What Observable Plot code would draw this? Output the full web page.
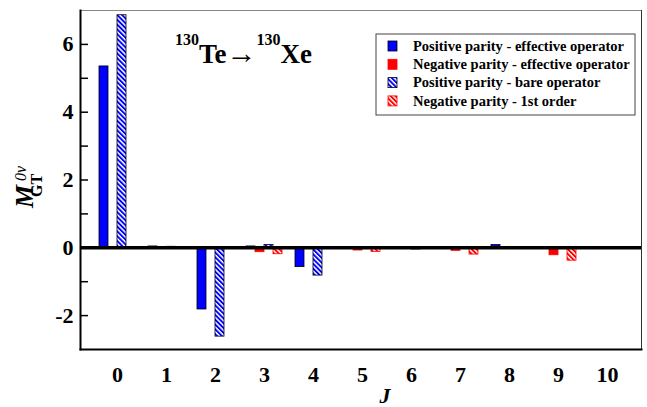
<!DOCTYPE html>
<html><head><meta charset="utf-8">
<script src="https://cdn.jsdelivr.net/npm/d3@7"></script>
<script src="https://cdn.jsdelivr.net/npm/@observablehq/plot@0.6"></script>
<style>body{margin:0;background:#fff}</style>
</head><body><div id="chart"></div>
<script>
const J = [0, 1, 2, 3, 4, 5, 6, 7, 8, 9, 10];
const posEffective = [5.35, 0.04, -1.82, 0.04, -0.57, 0, -0.03, 0, 0.08, 0, 0];
const negEffective = [0, 0, 0, -0.13, 0.02, -0.08, 0, -0.09, 0, -0.22, 0];
const posBare      = [6.86, 0.03, -2.62, 0.08, -0.82, 0, -0.05, 0, 0.02, 0, 0];
const negFirst     = [0, 0, 0, -0.19, 0.02, -0.12, 0, -0.20, 0, -0.38, 0];
const seriesNames = [
  "Positive parity - effective operator",
  "Negative parity - effective operator",
  "Positive parity - bare operator",
  "Negative parity - 1st order"
];
const yTicks = [-2, 0, 2, 4, 6];
const yMinorTicks = [-1, 1, 3, 5];

const seriesValues = [posEffective, negEffective, posBare, negFirst];
const fills = ["#0000ff", "#ff0000", "url(#hatchBlue)", "url(#hatchRed)"];
const strokes = ["#000", "#ff0000", "#000", "#ff0000"];
const pxPerJ = 49;
const barW = 9 / pxPerJ;
const slotOff = [-13.5, -4.5, 4.5, 13.5].map(p => p / pxPerJ);

const rows = J.flatMap((j, i) => seriesValues.map((vals, s) => ({J: j, s, value: vals[i]})));

const font = "Liberation Serif, Times New Roman, serif";

const barMarks = seriesValues.map((_, s) =>
  Plot.rectY(rows.filter(d => d.s === s), {
    x1: d => d.J + slotOff[s] - barW / 2,
    x2: d => d.J + slotOff[s] + barW / 2,
    y1: d => 0,
    y2: "value",
    fill: fills[s],
    stroke: strokes[s],
    strokeWidth: 0.8
  })
);

const svg = Plot.plot({
  width: 647, height: 407,
  marginLeft: 80, marginRight: 6, marginTop: 10, marginBottom: 58,
  x: {domain: [-0.755, 10.694]},
  y: {domain: [-3, 7]},
  style: {fontFamily: font, background: "white", color: "black"},
  marks: [
    ...barMarks,
    Plot.ruleY([0], {strokeWidth: 3.5}),
    Plot.frame({stroke: "#888"}),
    Plot.frame({anchor: "right", stroke: "#333"}),
    Plot.frame({anchor: "left", strokeWidth: 2}),
    Plot.frame({anchor: "bottom", strokeWidth: 2}),
    Plot.axisY(yTicks, {tickSize: -8, tickPadding: 15, fontSize: 22, fontWeight: "bold", fontFamily: font, fontVariant: "normal", tickFormat: d => String(d), label: null, strokeWidth: 1.5}),
    Plot.axisY(yMinorTicks, {tickSize: -8, tickFormat: () => "", label: null, strokeWidth: 1.5}),
    Plot.axisX(J, {tickSize: 0, tickPadding: 17, fontSize: 22, fontWeight: "bold", fontFamily: font, fontVariant: "normal", label: null})
  ]
});

const s = d3.select(svg);
const defs = s.insert("defs", ":first-child");
function hatch(id, color) {
  const p = defs.append("pattern").attr("id", id).attr("patternUnits", "userSpaceOnUse")
    .attr("width", 3.4).attr("height", 3.4).attr("patternTransform", "rotate(-45)");
  p.append("rect").attr("width", 3.4).attr("height", 3.4).attr("fill", "white");
  p.append("rect").attr("width", 1.9).attr("height", 3.4).attr("fill", color);
}
hatch("hatchBlue", "#0000ff");
hatch("hatchRed", "#ff0000");

function txt(sel) {
  return sel.append("text").attr("text-anchor", "start").attr("font-family", font).attr("fill", "black");
}

// title
const t = txt(s).attr("x", 175).attr("y", 63).attr("font-weight", "bold").attr("font-size", 27);
t.append("tspan").attr("font-size", 16).attr("dy", -18).text("130");
t.append("tspan").attr("dy", 18).text("Te");
t.append("tspan").attr("font-weight", "normal").attr("font-size", 30).attr("dx", 0).attr("dy", 0).text("\u2192");
t.append("tspan").attr("font-size", 16).attr("dx", 0).attr("dy", -18).text("130");
t.append("tspan").attr("dy", 18).text("Xe");

// y label
txt(s).attr("transform", "translate(33,208) rotate(-90)")
  .attr("font-style", "italic").attr("font-weight", "bold").attr("font-size", 26).text("M");
txt(s).attr("transform", "translate(26,181) rotate(-90)")
  .attr("font-style", "italic").attr("font-size", 16).text("0\u03bd");
txt(s).attr("transform", "translate(42,197) rotate(-90)")
  .attr("font-weight", "bold").attr("font-size", 16).text("GT");

// x label
txt(s).attr("x", 385).attr("y", 403).attr("text-anchor", "middle")
  .attr("font-style", "italic").attr("font-weight", "bold").attr("font-size", 22).text("J");

// legend
const lg = s.append("g");
lg.append("rect").attr("x", 376).attr("y", 34).attr("width", 259).attr("height", 81)
  .attr("fill", "white").attr("stroke", "#444").attr("stroke-width", 1);
seriesNames.forEach((name, i) => {
  const cy = 46 + i * 18.3;
  lg.append("rect").attr("x", 388).attr("y", cy - 5).attr("width", 9).attr("height", 10)
    .attr("fill", fills[i]).attr("stroke", strokes[i]).attr("stroke-width", 0.8);
  txt(lg).attr("x", 413).attr("y", cy + 4.8).attr("font-weight", "bold").attr("font-size", 14.5).text(name);
});

document.getElementById("chart").appendChild(svg);
</script>
</body></html>
